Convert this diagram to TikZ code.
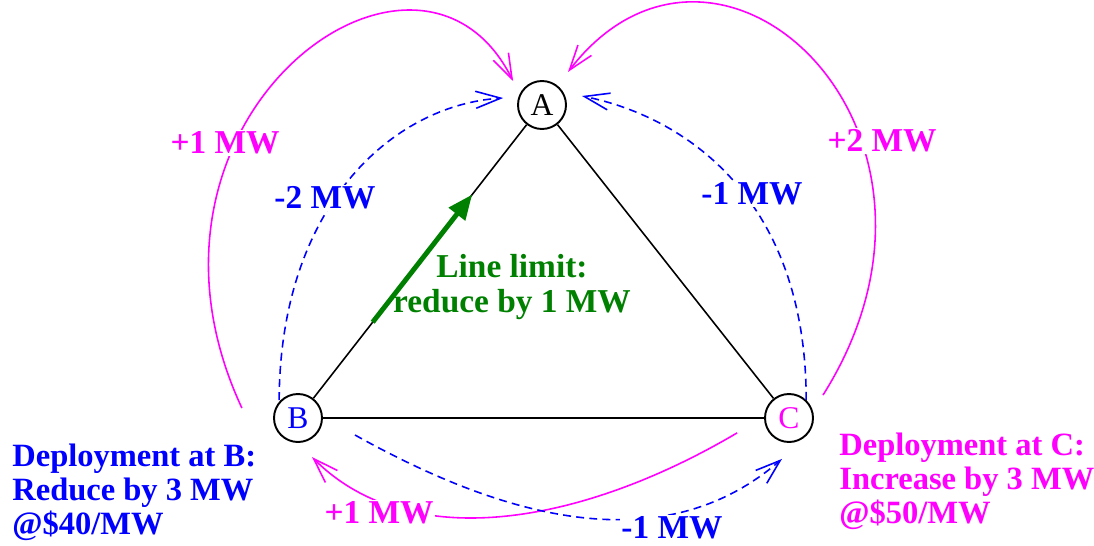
\documentclass[tikz,border=0pt]{standalone}
\usepackage{fontspec}
\setmainfont{Liberation Serif}
\usetikzlibrary{arrows.meta, calc}
\definecolor{flowmagenta}{RGB}{255,0,255}
\definecolor{flowblue}{RGB}{0,0,255}
\definecolor{limitgreen}{RGB}{0,128,0}
\tikzset{
    bus/.style={circle, draw=black, line width=1.1pt, minimum size=0.96cm, inner sep=0pt, font=\fontsize{18}{18}\selectfont},
    line/.style={line width=0.9pt, draw=black},
    magflow/.style={line width=0.9pt, draw=flowmagenta, -{Straight Barb[length=5mm,width=3.4mm]}},
    blueflow/.style={line width=0.9pt, draw=flowblue, dash pattern=on 4.5pt off 3pt, -{Straight Barb[length=5mm,width=3.4mm]}},
    mwlabel/.style={fill=white, inner sep=1pt, font=\fontsize{19}{19}\selectfont\bfseries},
    deploy/.style={anchor=north west, inner sep=0pt, align=left, font=\fontsize{18.5}{19.5}\selectfont\bfseries},
    limit/.style={line width=2.8pt, draw=limitgreen, -{Triangle[length=5mm,width=4mm]}}
}
\begin{document}
\begin{tikzpicture}
    \useasboundingbox (0,0) rectangle (21.88,10.90);
    \node (A) [bus] at (10.84,8.80) {A};
    \node (B) [bus, text=flowblue] at (5.96,2.54) {B};
    \node (C) [bus, text=flowmagenta] at (15.78,2.54) {C};

    \draw [line] (A) -- (B);
    \draw [line] (A) -- (C);
    \draw [line] (B) -- (C);
    \draw [limit] ($(B)!0.306!(A)$) -- ($(B)!0.714!(A)$);

    \draw [magflow] ($(B)+(169.9:1.14)$) .. controls +(-2.7,5.8) and +(-1.9,3.8) .. ($(A)+(140.4:0.75)$);
    \draw [magflow] ($(C)+(34:0.82)$) .. controls +(3.34,5.3) and +(3.0,3.9) .. ($(A)+(51.8:0.84)$);
    \draw [magflow] ($(C)+(196:1.08)$) .. controls +(-3.01,-1.78) and +(2.0,-2.0) .. ($(B)+(-70.3:0.83)$);
    \draw [blueflow] ($(B)+(136.5:0.52)$) .. controls +(0.02,3.9) and +(-2.2,-0.14) .. ($(A)+(169.8:0.79)$);
    \draw [blueflow] ($(C)+(46.6:0.50)$) .. controls +(0,3.9) and +(2.2,-0.45) .. ($(A)+(12.7:0.82)$);
    \draw [blueflow] ($(B)+(-16.6:1.19)$) .. controls +(3.4,-1.9) and +(-2.2,-1.9) .. ($(C)+(260.3:0.83)$);

    \node (mwBA) [mwlabel, text=flowmagenta] at (4.50,8.04) {+1 MW};
    \node (mwCA) [mwlabel, text=flowmagenta] at (17.64,8.08) {+2 MW};
    \node (mwCB) [mwlabel, text=flowmagenta] at (7.58,0.64) {+1 MW};
    \node (dfBA) [mwlabel, text=flowblue] at (6.50,6.94) {-2 MW};
    \node (dfCA) [mwlabel, text=flowblue] at (15.04,7.02) {-1 MW};
    \node (dfBC) [mwlabel, text=flowblue] at (13.44,0.34) {-1 MW};

    \node (limitText) [text=limitgreen, align=center, font=\fontsize{19}{19.5}\selectfont\bfseries] at (10.24,5.16) {Line limit:\\reduce by 1 MW};
    \node (deployB) [deploy, text=flowblue] at (0.24,2.03) {Deployment at B:\\Reduce by 3 MW\\@\$40/MW};
    \node (deployC) [deploy, text=flowmagenta] at (16.78,2.25) {Deployment at C:\\Increase by 3 MW\\@\$50/MW};
\end{tikzpicture}
\end{document}
